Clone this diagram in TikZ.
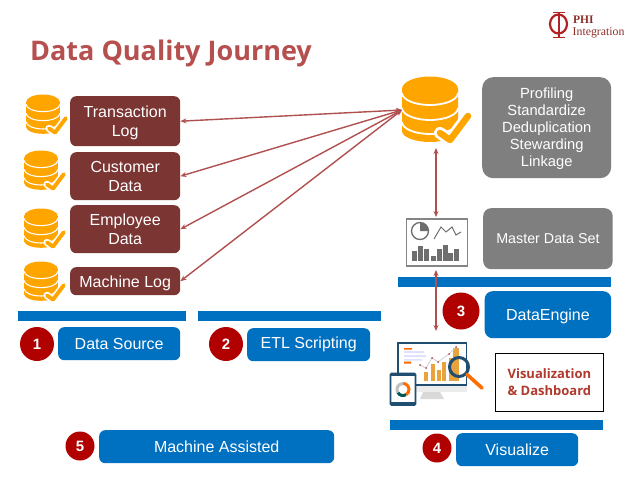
\documentclass[tikz,border=0pt]{standalone}
\usepackage{fontspec}
\setmainfont{Liberation Sans}
\newfontfamily\titlefont{Open Sans}
\newfontfamily\logofont{Liberation Serif}
\usetikzlibrary{arrows.meta}
\definecolor{maroon}{HTML}{7B3533}
\definecolor{greybox}{HTML}{7F7F7F}
\definecolor{bluebox}{HTML}{0070C0}
\definecolor{redcirc}{HTML}{B00000}
\definecolor{dborange}{HTML}{FFA500}
\definecolor{arrowred}{HTML}{B0504F}
\definecolor{titlered}{HTML}{B5504F}
\definecolor{navy}{HTML}{1F4E70}
\definecolor{iconorange}{HTML}{E8A33D}
\definecolor{icongrey}{HTML}{6E6E6E}
\definecolor{logored}{HTML}{B22222}
\definecolor{logotext}{HTML}{8E2F2B}
\definecolor{vistext}{HTML}{B03A2E}
\newcommand{\dbarc}[1]{(-28,#1) .. controls (-28,#1+6.6) and (-15.5,#1+12) .. (0,#1+12) .. controls (15.5,#1+12) and (28,#1+6.6) .. (28,#1)}
\newcommand{\srcline}[1]{\raisebox{-2pt}[12pt][4pt]{#1}}
\newcommand{\profline}[1]{\raisebox{-1.5pt}[11pt][3.5pt]{#1}}
\tikzset{
  x=1pt,y=-1pt,
  base/.style={rounded corners=#1,inner sep=0pt,align=center,text=white,anchor=north west},
  srcbox/.style={base=6pt,fill=maroon,font=\fontsize{16}{19}\selectfont},
  greyrect/.style={base=11pt,fill=greybox},
  bluerect/.style={base=6pt,fill=bluebox,font=\fontsize{16}{19}\selectfont,text height=11.5pt,text depth=0pt},
  bar/.style={fill=bluebox,draw=none},
  badge/.style={circle,fill=redcirc,text=white,inner sep=0pt,font=\bfseries\fontsize{15}{15}\selectfont},
  link/.style={draw=arrowred,line width=1.4pt,{Stealth[length=6pt,width=5pt]}-{Stealth[length=6pt,width=5pt]}},
  pics/dbicon/.style={code={
    \fill[dborange] (-28,0) .. controls (-28,-6.9) and (-15.5,-12.5) .. (0,-12.5) .. controls (15.5,-12.5) and (28,-6.9) .. (28,0) -- (28,42) .. controls (28,48) and (15.5,53) .. (0,53) .. controls (-15.5,53) and (-28,48) .. (-28,42) -- cycle;
    \draw[white,line width=#1*1.8pt] \dbarc{4};
    \draw[white,line width=#1*1.8pt] \dbarc{19};
    \draw[white,line width=#1*1.8pt] \dbarc{33};
    \draw[white,line width=#1*12pt,line join=round,line cap=round] (10,44) -- (20,51) -- (38,27);
    \draw[dborange,line width=#1*6.5pt,line join=round,line cap=round] (10,44) -- (20,51) -- (38,27);
  }}
}
\begin{document}
\begin{tikzpicture}
\useasboundingbox (0,0) rectangle (638,479);
\fill[white] (0,0) rectangle (638,479);

\node[anchor=base west,inner sep=0pt,text=titlered,font=\titlefont\bfseries\fontsize{27}{28}\selectfont] (title) at (30,60) {Data Quality Journey};

% logo
\draw[logored,line width=2.2pt] (558.5,24) ellipse [x radius=8.5,y radius=9.5];
\draw[logored,line width=1.6pt] (559,12.5) -- (559,37);
\draw[logored,line width=1pt] (553,12.5) -- (565,12.5) (553,37) -- (565,37);
\node[anchor=base west,inner sep=0pt,text=logotext,font=\logofont\bfseries\fontsize{11.5}{11}\selectfont] (logoa) at (573,23.5) {PHI};
\node[anchor=base west,inner sep=0pt,text=logotext,font=\logofont\fontsize{11.8}{11}\selectfont] (logob) at (572.5,35.5) {Integration};

% source boxes
\node[srcbox,minimum width=110pt,minimum height=50pt] (tl) at (70,96) {\srcline{Transaction}\\\srcline{Log}};
\node[srcbox,minimum width=110pt,minimum height=48pt] (cd) at (70,152) {\srcline{Customer}\\\srcline{Data}};
\node[srcbox,minimum width=110pt,minimum height=48pt] (ed) at (70,205) {\srcline{Employee}\\\srcline{Data}};
\node[srcbox,minimum width=110pt,minimum height=28pt] (ml) at (70,267) {\srcline{Machine Log}};

\pic[scale=.6] at (43,102) {dbicon=.6};
\pic[scale=.6] at (41,158) {dbicon=.6};
\pic[scale=.6] at (41,216) {dbicon=.6};
\pic[scale=.6] at (41,269) {dbicon=.6};
\pic at (430,89) {dbicon=1};

% grey boxes
\node[greyrect,minimum width=129pt,minimum height=101pt,font=\fontsize{14.7}{17}\selectfont] (prof) at (482,77) {\profline{Profiling}\\\profline{Standardize}\\\profline{Deduplication}\\\profline{Stewarding}\\\profline{Linkage}};
\node[greyrect,minimum width=129.5pt,minimum height=61pt,rounded corners=8pt,font=\fontsize{14.3}{17}\selectfont,text height=10.5pt,text depth=0pt] (mds) at (483,208) {Master Data Set};

% bars
\fill[bar] (18,311) rectangle (186,321);
\fill[bar] (198,311) rectangle (381,321);
\fill[bar] (398,277) rectangle (611,287);
\fill[bar] (390,420) rectangle (603,430);

% blue boxes
\node[bluerect,minimum width=122pt,minimum height=33pt] (ds) at (58,327) {Data Source};
\node[bluerect,minimum width=123pt,minimum height=33pt,text depth=3pt] (etl) at (247,328) {ETL Scripting};
\node[bluerect,minimum width=235pt,minimum height=33pt] (ma) at (99,430) {Machine Assisted};
\node[bluerect,minimum width=126.5pt,minimum height=47pt,rounded corners=8pt] (de) at (484.5,291) {DataEngine};
\node[bluerect,minimum width=122pt,minimum height=33pt] (vz) at (456,433) {Visualize};

% badges
\node[badge,minimum size=34pt] (b1) at (37,344) {1};
\node[badge,minimum size=34pt] (b2) at (226,344) {2};
\node[badge,minimum size=37pt] (b3) at (461,311) {3};
\node[badge,minimum size=29pt] (b4) at (437,448) {4};
\node[badge,minimum size=29pt] (b5) at (80,446) {5};

% visualization label
\node[draw=black,line width=.8pt,anchor=north west,minimum width=108pt,minimum height=58pt,inner sep=0pt,align=center,text=vistext,font=\titlefont\bfseries\fontsize{13}{17}\selectfont] (vis) at (495,353) {Visualization\\\& Dashboard};

% chart icon
\node[draw=icongrey!85!white,line width=1.8pt,anchor=north west,minimum width=61pt,minimum height=47pt,inner sep=0pt] (chart) at (405.5,218) {};
\draw[icongrey,line width=1.3pt] (420,231) circle (8.5);
\fill[icongrey] (420,231) -- (420,222.5) arc (-90:0:8.5) -- cycle;
\draw[icongrey,line width=1pt] (434,239) -- (441,227) -- (446,232) -- (452,227) -- (456,235) -- (461,232);
\foreach \xa/\ya in {412/251,418/246,424/249,431/256,437/249,443/245,448/253,454/249}{
  \fill[icongrey] (\xa,\ya) rectangle (\xa+4.6,261);
}

% dashboard icon
\fill[gray!30] (423,392) -- (440,392) -- (444,399) -- (420,399) -- cycle;
\fill[gray!15] (398,385) rectangle (467,392);
\draw[navy,line width=1.8pt,fill=white] (398,343) rectangle (466.5,385);
\fill[blue!12] (404,351) rectangle (424,353) (404,355) rectangle (426,357) (404,359) rectangle (422,360.5);
\fill[orange!80!red] (404,348) rectangle (412,349.5) (404,361.5) rectangle (411,363.5);
\foreach \xa/\ya in {424/372,431/364,437/370,442/362,449/358,453/348}{
  \fill[iconorange] (\xa,\ya) rectangle (\xa+3.8,381);
}
\fill[iconorange] (453,348) rectangle (459,381);
\draw[gray!40,line width=.7pt] (420,365) -- (426,368) -- (432,358) -- (438,362) -- (449,354) -- (456,347);
\foreach \xa/\ya in {420/365,426/368,432/358,438/362,449/354,456/347}{
  \fill[red!55!black!70] (\xa,\ya) circle (1);
}
\draw[navy,line width=3pt] (459,367) circle (9.5);
\draw[orange!85!red,line width=3.6pt,line cap=round] (467,374.5) -- (482,388);
\draw[navy,line width=1.6pt,fill=white,rounded corners=1pt] (390.5,373.5) rectangle (415.5,405);
\fill[navy] (390.5,373.5) rectangle (415.5,376);
\fill[navy] (390.5,402) rectangle (415.5,405);
\draw[orange!85!red,line width=3pt] (403,383.5) arc (-90:60:6);
\draw[teal!70!black,line width=3pt] (406,394.7) arc (60:150:6);
\draw[gray!50,line width=3pt] (397.8,392.5) arc (150:270:6);

% connectors
\coordinate (hub) at (402,110);
\coordinate (dbb) at (436,148);
\coordinate (charttop) at (436,217);
\coordinate (chartb) at (436,270);
\coordinate (dashtop) at (436,331);
\draw[link] (hub) -- (tl.east);
\draw[link] (hub) -- (cd.east);
\draw[link] (hub) -- (ed.east);
\draw[link] (hub) -- (ml.east);
\draw[link] (dbb) -- (charttop);
\draw[link] (chartb) -- (dashtop);
\end{tikzpicture}
\end{document}
